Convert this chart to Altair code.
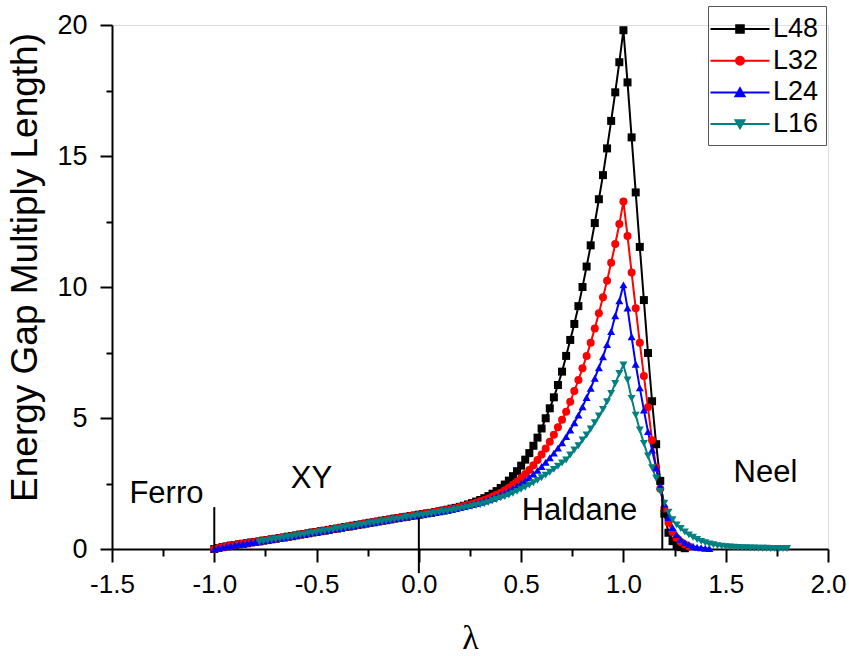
import altair as alt
import numpy as np
import pandas as pd

# ---- series definitions -------------------------------------------------
series_names = ["L48", "L32", "L24", "L16"]
series_colors = ["#000000", "#ff0000", "#0000ff", "#008080"]
series_shapes = ["square", "circle", "triangle-up", "triangle-down"]
series_sizes = [64, 64, 90, 100]
lam_step = 0.02

# XY branch, lambda = -1.00 ... 0.00 (shared by L48 / L32 / L24)
xy_branch = [0.00, 0.04, 0.07, 0.10, 0.13, 0.15, 0.18, 0.20, 0.22, 0.25,
             0.27, 0.29, 0.32, 0.34, 0.37, 0.39, 0.42, 0.44, 0.47, 0.49,
             0.52, 0.55, 0.57, 0.60, 0.63, 0.65, 0.68, 0.70, 0.73, 0.76,
             0.78, 0.81, 0.84, 0.86, 0.89, 0.92, 0.94, 0.97, 1.00, 1.02,
             1.05, 1.08, 1.10, 1.13, 1.16, 1.18, 1.21, 1.23, 1.26, 1.28,
             1.31]

# lambda = 0.02 ... 1.30
l48_upper = [1.33, 1.36, 1.38, 1.41, 1.44, 1.47, 1.50, 1.54, 1.57, 1.61,
             1.65, 1.70, 1.75, 1.81, 1.87, 1.94, 2.02, 2.11, 2.21, 2.33,
             2.46, 2.61, 2.78, 2.97, 3.18, 3.41, 3.66, 3.94, 4.25, 4.60,
             4.99, 5.37, 5.79, 6.26, 6.77, 7.37, 7.98, 8.59, 9.27, 10.00,
             10.78, 11.59, 12.44, 13.35, 14.27, 15.29, 16.34, 17.43, 18.58, 19.80,
             17.81, 15.71, 13.61, 11.53, 9.50, 7.48, 5.64, 4.00, 2.60, 1.35,
             0.62, 0.30, 0.14, 0.07, 0.03]

# lambda = 0.02 ... 1.32
l32_upper = [1.33, 1.36, 1.38, 1.41, 1.44, 1.47, 1.50, 1.53, 1.56, 1.60,
             1.64, 1.68, 1.72, 1.77, 1.82, 1.87, 1.93, 2.00, 2.07, 2.15,
             2.24, 2.34, 2.45, 2.57, 2.71, 2.86, 3.02, 3.20, 3.40, 3.61,
             3.84, 4.09, 4.36, 4.65, 4.93, 5.24, 5.62, 6.03, 6.45, 6.90,
             7.37, 7.87, 8.42, 9.00, 9.61, 10.24, 10.93, 11.64, 12.40, 13.26,
             11.95, 10.55, 9.19, 7.87, 6.60, 5.41, 4.15, 3.10, 2.30, 1.55,
             1.00, 0.65, 0.42, 0.27, 0.17, 0.10]

# lambda = 0.02 ... 1.42
l24_upper = [1.33, 1.35, 1.38, 1.40, 1.43, 1.46, 1.49, 1.52, 1.55, 1.58,
             1.62, 1.66, 1.70, 1.74, 1.78, 1.83, 1.88, 1.94, 2.00, 2.07,
             2.14, 2.22, 2.31, 2.40, 2.50, 2.61, 2.73, 2.86, 3.00, 3.15,
             3.31, 3.48, 3.66, 3.85, 4.05, 4.29, 4.54, 4.82, 5.11, 5.43,
             5.78, 6.13, 6.52, 6.92, 7.34, 7.80, 8.30, 8.90, 9.47, 10.08,
             9.20, 8.10, 7.05, 6.15, 5.30, 4.48, 3.78, 3.10, 2.40, 1.72,
             1.20, 0.82, 0.55, 0.37, 0.25, 0.17, 0.11, 0.07, 0.05, 0.03,
             0.02]

# lambda = -0.78 ... 1.80
l16_values = [0.27, 0.30, 0.32, 0.35, 0.37, 0.40, 0.42, 0.45, 0.47, 0.50,
              0.53, 0.55, 0.58, 0.60, 0.63, 0.66, 0.68, 0.71, 0.73, 0.76,
              0.79, 0.81, 0.84, 0.86, 0.89, 0.92, 0.94, 0.97, 0.99, 1.02,
              1.04, 1.07, 1.10, 1.12, 1.15, 1.17, 1.20, 1.22, 1.25, 1.27,
              1.29, 1.32, 1.34, 1.37, 1.39, 1.42, 1.44, 1.47, 1.50, 1.53,
              1.56, 1.59, 1.62, 1.66, 1.69, 1.73, 1.78, 1.84, 1.89, 1.95,
              2.00, 2.06, 2.13, 2.20, 2.28, 2.36, 2.44, 2.53, 2.62, 2.72,
              2.82, 2.93, 3.04, 3.16, 3.28, 3.40, 3.59, 3.78, 3.94, 4.16,
              4.35, 4.58, 4.82, 5.08, 5.33, 5.62, 5.94, 6.32, 6.70, 7.02,
              6.45, 5.75, 5.11, 4.54, 4.03, 3.55, 3.10, 2.70, 2.20, 1.75,
              1.40, 1.12, 0.92, 0.78, 0.65, 0.54, 0.45, 0.36, 0.29, 0.24,
              0.19, 0.16, 0.13, 0.11, 0.09, 0.08, 0.07, 0.06, 0.05, 0.05,
              0.04, 0.04, 0.03, 0.03, 0.03, 0.02, 0.02, 0.02, 0.02, 0.02]

series_start = [-1.00, -1.00, -1.00, -0.78]
series_values = [xy_branch + l48_upper,
                 xy_branch + l32_upper,
                 xy_branch + l24_upper,
                 l16_values]

# phase boundaries (vertical markers) and phase names
boundary_lam = [-1.0, 0.0, 1.19]
boundary_lo = [0.0, -0.92, 0.0]
boundary_hi = [1.6, 1.2, 2.1]

phase_names = ["Ferro", "XY", "Haldane", "Neel"]
phase_lam = [-1.234, -0.525, 0.785, 1.694]
phase_gap = [1.74, 2.33, 1.10, 2.57]

x_ticks = [-1.5, -1.25, -1.0, -0.75, -0.5, -0.25, 0.0, 0.25, 0.5, 0.75,
           1.0, 1.25, 1.5, 1.75, 2.0]
y_ticks = [0, 2.5, 5, 7.5, 10, 12.5, 15, 17.5, 20]

# legend glyphs: a short line with the series marker in the middle
legend_glyphs = [
    "M-1.967,0H1.967M-0.253,-0.253H0.253V0.253H-0.253Z",
    "M-1.967,0H1.967M-0.267,0A0.267,0.267,0,1,0,0.267,0A0.267,0.267,0,1,0,-0.267,0Z",
    "M-1.967,0H1.967M0,-0.28L0.3,0.25L-0.3,0.25Z",
    "M-1.967,0H1.967M0,0.28L0.3,-0.25L-0.3,-0.25Z",
]

# ---- tables -------------------------------------------------------------
rows = []
for name, start, vals in zip(series_names, series_start, series_values):
    for i, v in enumerate(vals):
        rows.append({"series": name, "lam": round(start + lam_step * i, 2), "gap": v})
df = pd.DataFrame(rows)

bounds_df = pd.DataFrame({"lam": boundary_lam, "lo": boundary_lo, "hi": boundary_hi})
phase_df = pd.DataFrame({"name": phase_names, "lam": phase_lam, "gap": phase_gap})
legend_df = pd.DataFrame({"series": series_names})

FONT = "Liberation Sans"

x_scale = alt.Scale(domain=[-1.5, 2.0], nice=False, zero=False)
y_scale = alt.Scale(domain=[0, 20], nice=False, zero=False)
color_scale = alt.Scale(domain=series_names, range=series_colors)

x_axis = alt.Axis(
    values=x_ticks,
    tickSize={"condition": {"test": "datum.value % 0.5 != 0", "value": 7}, "value": 13},
    labelExpr="datum.value % 0.5 != 0 ? '' : (datum.value < 0 ? '-' : '') + format(abs(datum.value), '.1f')",
    title="λ", titleFont="Liberation Serif", titleFontSize=34, titleFontWeight="normal",
    titlePadding=24, titleColor="black",
    labelFont=FONT, labelFontSize=26, labelPadding=9, labelColor="black",
    labelFlush=False, labelOverlap=False, labelBound=False,
    domainColor="black", domainWidth=2, tickColor="black", tickWidth=2, grid=False,
)
y_axis = alt.Axis(
    values=y_ticks,
    tickSize={"condition": {"test": "datum.value % 5 != 0", "value": 6}, "value": 12},
    labelExpr="datum.value % 5 != 0 ? '' : format(datum.value, 'd')",
    title="Energy Gap Multiply Length)", titleFont=FONT, titleFontSize=37,
    titleFontWeight="normal", titlePadding=12, titleColor="black", titleY=242,
    labelFont=FONT, labelFontSize=27, labelPadding=13, labelColor="black",
    labelFlush=False, labelOverlap=False, labelBound=False,
    domainColor="black", domainWidth=2, tickColor="black", tickWidth=2, grid=False,
)

base = alt.Chart(df)

lines = base.mark_line(strokeWidth=2).encode(
    x=alt.X("lam:Q", scale=x_scale, axis=x_axis),
    y=alt.Y("gap:Q", scale=y_scale, axis=y_axis),
    color=alt.Color("series:N", scale=color_scale, legend=None),
)

points = base.mark_point(filled=True, opacity=1).encode(
    x=alt.X("lam:Q", scale=x_scale),
    y=alt.Y("gap:Q", scale=y_scale),
    color=alt.Color("series:N", scale=color_scale, legend=None),
    shape=alt.Shape("series:N", scale=alt.Scale(domain=series_names, range=series_shapes), legend=None),
    size=alt.Size("series:N", scale=alt.Scale(domain=series_names, range=series_sizes), legend=None),
)

bounds = alt.Chart(bounds_df).mark_rule(color="black", strokeWidth=2).encode(
    x=alt.X("lam:Q", scale=x_scale),
    y=alt.Y("lo:Q", scale=y_scale),
    y2="hi:Q",
)

phases = alt.Chart(phase_df).mark_text(
    font=FONT, fontSize=31, color="black", align="center", baseline="alphabetic"
).encode(
    x=alt.X("lam:Q", scale=x_scale),
    y=alt.Y("gap:Q", scale=y_scale),
    text="name:N",
)

legend_props = dict(
    orient="none", legendX=596, legendY=-19, title=None,
    labelFont=FONT, labelFontSize=27, labelColor="black", labelOffset=17,
    symbolSize=900, symbolStrokeWidth=2, symbolOpacity=1, symbolOffset=9,
    strokeColor="#555555", padding=7, rowPadding=2.7,
)

legend_layer = alt.Chart(legend_df).transform_filter("false").mark_point(
    filled=True, opacity=1, strokeWidth=2
).encode(
    color=alt.Color("series:N", scale=color_scale, legend=alt.Legend(**legend_props)),
    stroke=alt.Stroke("series:N", scale=alt.Scale(domain=series_names, range=series_colors),
                      legend=alt.Legend(**legend_props)),
    shape=alt.Shape("series:N", scale=alt.Scale(domain=series_names, range=legend_glyphs),
                    legend=alt.Legend(**legend_props)),
)

chart = alt.layer(lines, points, bounds, phases, legend_layer).resolve_scale(
    shape="independent"
).resolve_legend(
    color="independent", shape="independent", stroke="independent"
).properties(
    width=716,
    height=524,
    padding={"left": 112, "top": 25, "right": 21, "bottom": 107},
    autosize=alt.AutoSizeParams(type="none"),
    background="white",
).configure_view(stroke=None).configure(font=FONT)

chart.save("out.html", embed_options={"renderer": "svg", "actions": False})
